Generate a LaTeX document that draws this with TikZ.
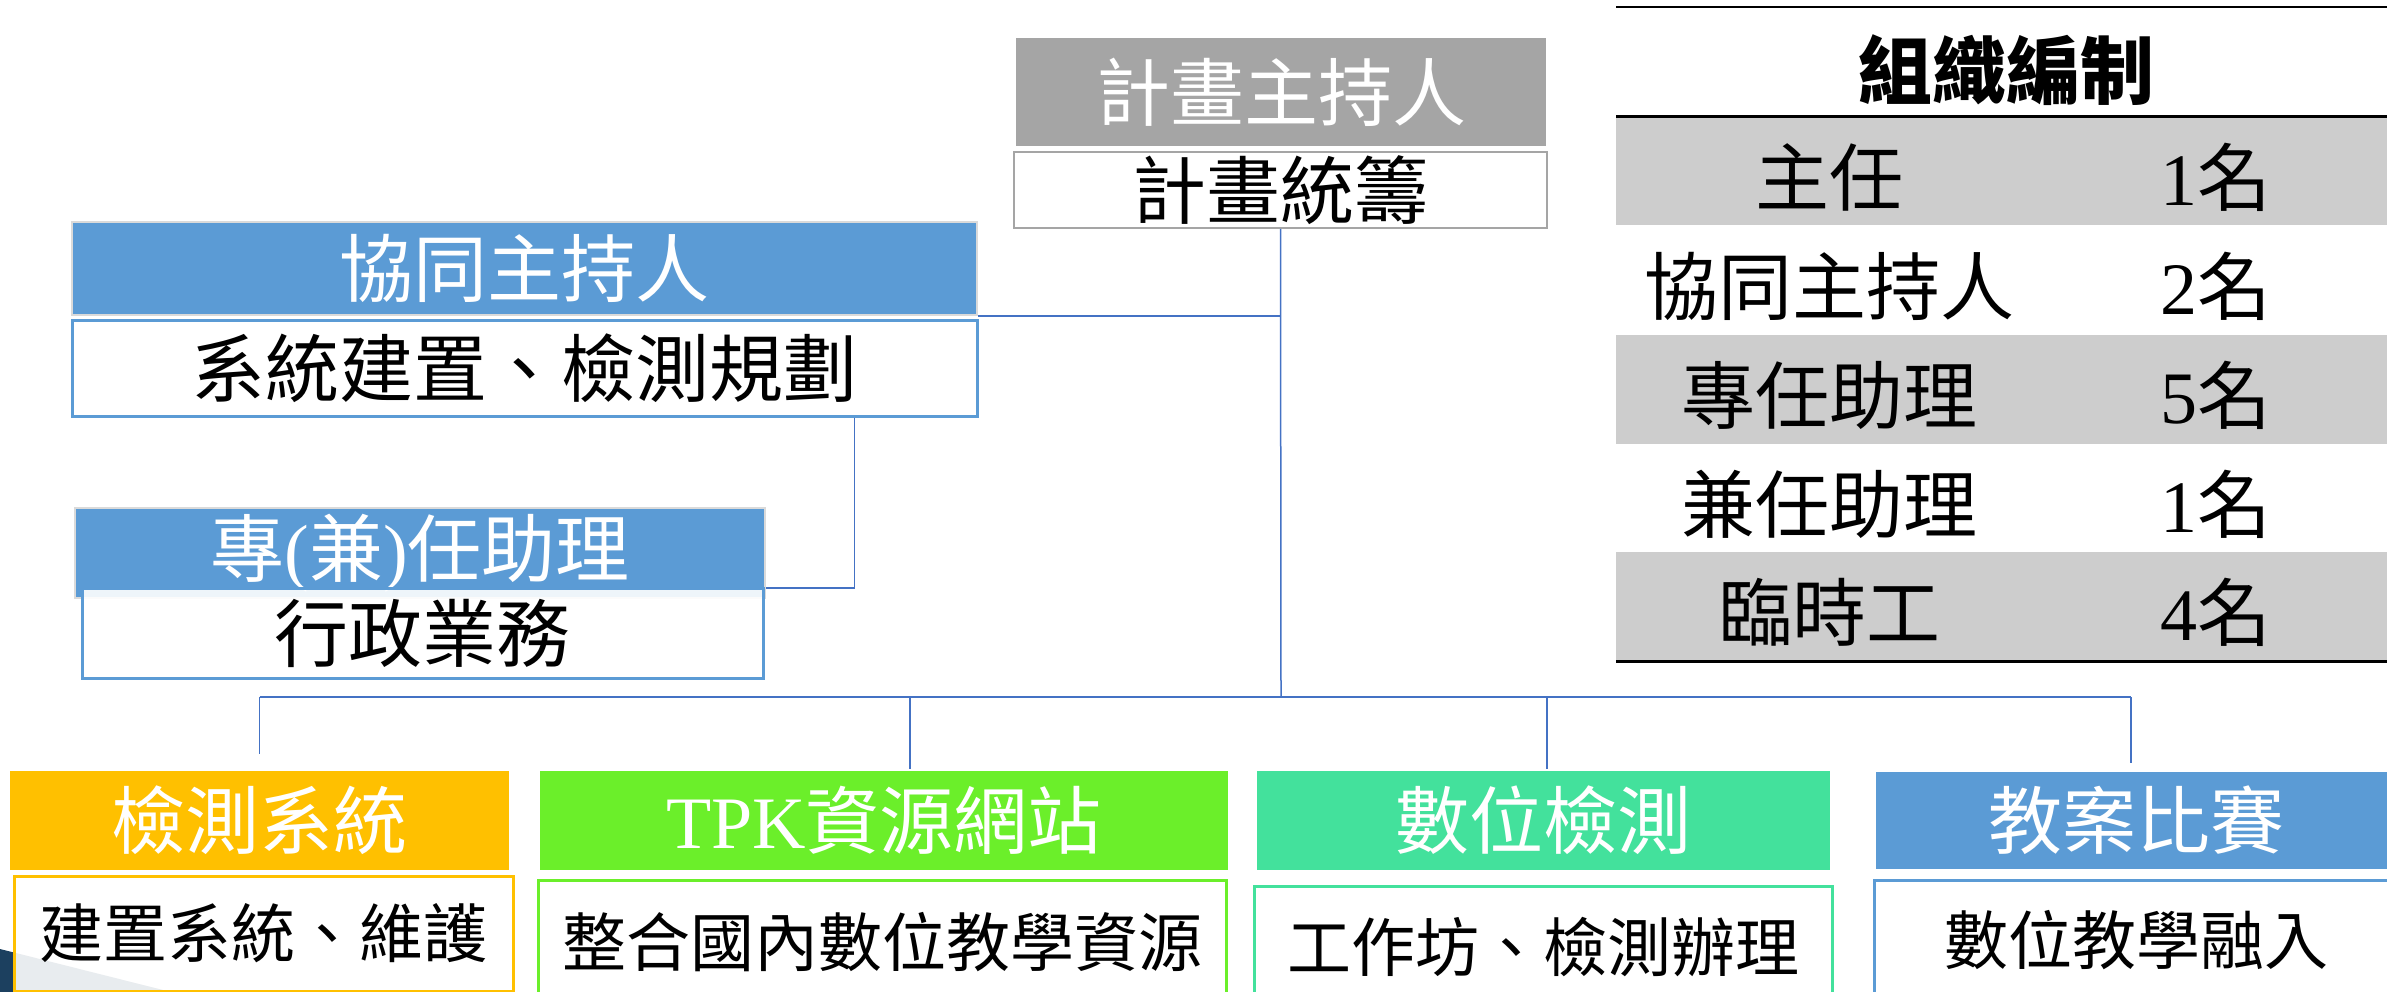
\documentclass[tikz,border=0pt]{standalone}
\usepackage{fontspec}
\setmainfont{Noto Sans CJK TC}
\newfontfamily\lat{Liberation Serif}
\definecolor{gpi}{HTML}{A5A5A5}
\definecolor{bl}{HTML}{5B9BD5}
\definecolor{org}{HTML}{FFC000}
\definecolor{grn}{HTML}{6BEF2A}
\definecolor{tea}{HTML}{43E19C}
\definecolor{navy}{HTML}{1C405F}
\definecolor{rowg}{HTML}{CDCDCD}
\definecolor{cbl}{HTML}{4472C4}
\definecolor{lgb}{HTML}{DADADA}
\begin{document}
\begin{tikzpicture}[x=1pt,y=-1pt,
  hdr/.style={rectangle, inner sep=0pt, text=white, font=\fontsize{74}{80}\selectfont},
  subw/.style={rectangle, inner sep=0pt, fill=white, fill opacity=0.9, text opacity=1, text=black, line width=3pt, font=\fontsize{74}{80}\selectfont},
  subs/.style={subw, font=\fontsize{64}{70}\selectfont},
  conn/.style={draw=cbl, line width=1.5pt},
  tabt/.style={inner sep=0pt, text=black, font=\fontsize{74}{80}\selectfont}]
\useasboundingbox (0,0) rectangle (2387,992);
\clip (0,0) rectangle (2387,992);
% background corner decoration
\fill[navy] (0,949) -- (171,992) -- (0,992) -- cycle;

% top level
\node[hdr, fill=gpi, minimum width=530pt, minimum height=108pt] (pi) at (1281,92) {計畫主持人};
\node[subw, draw=gpi, line width=2pt, minimum width=533pt, minimum height=76pt] (pisub) at (1280.5,190) {計畫統籌};

% co-PI
\node[hdr, fill=bl, draw=lgb, line width=2pt, minimum width=905pt, minimum height=93pt] (co) at (524.5,268.5) {協同主持人};
\node[subw, draw=bl, minimum width=905pt, minimum height=96pt] (cosub) at (524.5,368) {系統建置、檢測規劃};

% assistant
\node[hdr, fill=bl, draw=lgb, line width=2pt, minimum width=690pt, minimum height=90pt] (as) at (420,553) {專{\lat(}兼{\lat)}任助理};
\node[subw, draw=bl, minimum width=681pt, minimum height=90pt] (assub) at (422.5,633) {行政業務};

% bottom row
\node[hdr, fill=org, minimum width=499pt, minimum height=99pt] (b1) at (259.5,820.5) {檢測系統};
\node[subs, draw=org, minimum width=499pt, minimum height=115pt] (b1sub) at (263.5,933.5) {建置系統、維護};
\node[hdr, fill=grn, minimum width=688pt, minimum height=99pt] (b2) at (884,820.5) {{\lat TPK}資源網站};
\node[subs, draw=grn, minimum width=688pt, minimum height=124pt] (b2sub) at (882,942) {整合國內數位教學資源};
\node[hdr, fill=tea, minimum width=573pt, minimum height=99pt] (b3) at (1543.5,820.5) {數位檢測};
\node[subs, draw=tea, minimum width=578pt, minimum height=122pt] (b3sub) at (1543,947) {工作坊、檢測辦理};
\node[hdr, fill=bl, minimum width=520pt, minimum height=97pt] (b4) at (2136,820.5) {教案比賽};
\node[subs, draw=bl, minimum width=524pt, minimum height=120pt] (b4sub) at (2136,940) {數位教學融入};

% connectors
\coordinate (bus) at (1281,697);
\draw[conn] (pisub.south) -- (bus);
\draw[conn] (co.south east) -- (co.south east -| pisub.south);
\draw[conn] ([xshift=-124pt]cosub.south east) |- ([yshift=11pt]as.south east);
\draw[conn, line width=2pt] (b1.north |- bus) -- ([xshift=-5pt]b4.north |- bus);
\draw[conn] (b1.north |- bus) -- ([yshift=17pt]b1.north);
\draw[conn] ([xshift=26pt]b2.north |- bus) -- ([xshift=26pt,yshift=2pt]b2.north);
\draw[conn] ([xshift=3.5pt]b3.north |- bus) -- ([xshift=3.5pt,yshift=2pt]b3.north);
\draw[conn] ([xshift=-5pt]b4.north |- bus) -- ([xshift=-5pt,yshift=9pt]b4.north);

% staffing table
\fill[rowg] (1616,117) rectangle (2387,225);
\fill[rowg] (1616,335) rectangle (2387,444);
\fill[rowg] (1616,552) rectangle (2387,661);
\draw[line width=2.5pt] (1616,7) -- (2387,7);
\draw[line width=3pt] (1616,117) -- (2387,117);
\draw[line width=3pt] (1616,661) -- (2387,661);
\node[tabt, font=\fontsize{74}{80}\selectfont\bfseries] (th) at (2006,70) {組織編制};
\node[tabt] (r1a) at (1829,177) {主任};
\node[tabt] (r1b) at (2216,177) {{\lat 1}名};
\node[tabt] (r2a) at (1829,286) {協同主持人};
\node[tabt] (r2b) at (2216,286) {{\lat 2}名};
\node[tabt] (r3a) at (1829,395) {專任助理};
\node[tabt] (r3b) at (2216,395) {{\lat 5}名};
\node[tabt] (r4a) at (1829,504) {兼任助理};
\node[tabt] (r4b) at (2216,504) {{\lat 1}名};
\node[tabt] (r5a) at (1829,612) {臨時工};
\node[tabt] (r5b) at (2216,612) {{\lat 4}名};
\end{tikzpicture}
\end{document}
